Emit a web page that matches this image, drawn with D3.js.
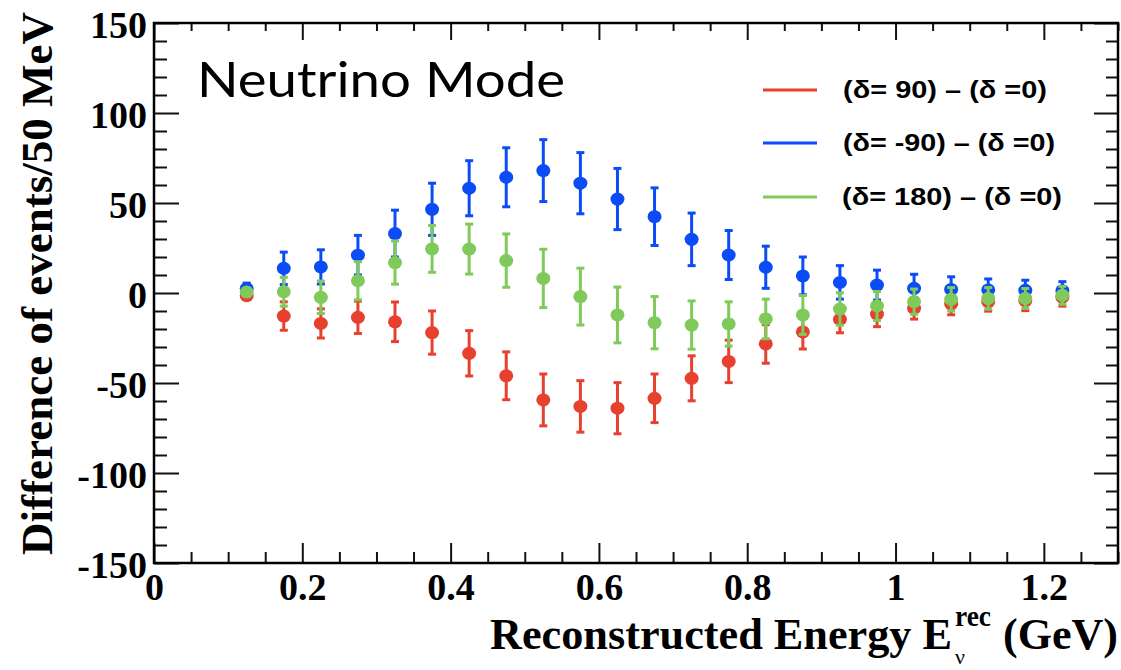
<!DOCTYPE html>
<html>
<head>
<meta charset="utf-8">
<script src="https://cdn.jsdelivr.net/npm/d3@7/dist/d3.min.js"></script>
<style>
  body { margin: 0; background: #fff; }
  svg { display: block; }
</style>
</head>
<body>
<div id="chart"></div>
<script>
// bin centres (GeV), 50 MeV bins
const energy = [0.125, 0.175, 0.225, 0.275, 0.325, 0.375, 0.425, 0.475, 0.525, 0.575, 0.625, 0.675,
                0.725, 0.775, 0.825, 0.875, 0.925, 0.975, 1.025, 1.075, 1.125, 1.175, 1.225];

// (delta=90) - (delta=0)
const redDiff = [-1.5, -12.8, -16.9, -13.5, -16, -22, -33.5, -46, -59.4, -63, -64, -58.5,
                 -47.4, -38, -28.3, -21.6, -14.6, -11.7, -8.5, -6.1, -4.8, -4.3, -2.3];
const redErr = [2, 7.9, 8.1, 9, 11, 12, 12.6, 13.3, 14.4, 14.3, 14.2, 13.5,
                12.5, 11.8, 10.7, 9.5, 7.5, 7, 6, 6, 5.3, 5.5, 5];

// (delta=-90) - (delta=0)
const blueDiff = [2.5, 13.7, 14.5, 21, 33, 46.5, 58.2, 64.3, 68, 61, 52.2, 42.4,
                  29.8, 21.1, 14.3, 9.5, 5.9, 4.4, 2.6, 2, 1.7, 1.5, 1.3];
const blueErr = [3, 9, 9.5, 11, 13, 14.5, 15.3, 16.4, 17.2, 17, 17, 16,
                 14.6, 13.6, 11.7, 10.5, 9.3, 8.3, 7.8, 7, 6.1, 5.6, 5];

// (delta=180) - (delta=0)
const greenDiff = [0.5, 0.7, -2.4, 6.8, 16.9, 24.5, 24.4, 18, 8.1, -2, -12.2, -16.5,
                   -17.8, -17.2, -14.4, -12.2, -8.9, -7.2, -4.8, -3.5, -3, -3, -1.3];
const greenErr = [2, 8, 9, 10.6, 12, 13, 13.9, 14.8, 16.2, 15.8, 15.5, 14.5,
                  13.4, 12.3, 11, 10.8, 9, 8, 7, 6.5, 6, 5.5, 5];

const seriesLabels = ['(δ= 90) – (δ =0)', '(δ= -90) – (δ =0)', '(δ= 180) – (δ =0)'];
const seriesColors = ['#e8402f', '#0b4cf6', '#7fca5a'];

const xTicks = [0, 0.2, 0.4, 0.6, 0.8, 1, 1.2];
const yTicks = [-150, -100, -50, 0, 50, 100, 150];

const width = 1121, height = 670;
const frame = { left: 154, right: 1118, top: 23, bottom: 563 };

const svg = d3.select('#chart').append('svg')
  .attr('width', width)
  .attr('height', height);

const x = d3.scaleLinear().domain([0, 1.3]).range([frame.left, frame.right]);
const y = d3.scaleLinear().domain([-150, 150]).range([frame.bottom, frame.top]);

const serif = "'Liberation Serif', 'Times New Roman', serif";
const sans = "'Liberation Sans', Arial, sans-serif";

// minor tick values, every 0.05 in x and 10 in y
const xMinor = d3.range(0, 27).map(i => +(i * 0.05).toFixed(2)).filter(v => xTicks.indexOf(v) < 0);
const yMinor = d3.range(-15, 16).map(i => i * 10).filter(v => yTicks.indexOf(v) < 0);

const styleAxis = g => {
  g.select('.domain').remove();
  g.selectAll('.tick line').attr('stroke', '#111').attr('stroke-width', 2);
};

// bottom axis with labels
svg.append('g')
  .attr('transform', `translate(0,${frame.bottom})`)
  .call(d3.axisBottom(x).tickValues(xTicks).tickSize(-20).tickPadding(10).tickFormat(d => String(d)))
  .call(styleAxis)
  .selectAll('text')
  .attr('font-family', serif)
  .attr('font-weight', 'bold')
  .attr('font-size', 38)
  .attr('fill', '#000');
svg.append('g')
  .attr('transform', `translate(0,${frame.bottom})`)
  .call(d3.axisBottom(x).tickValues(xMinor).tickSize(-11).tickFormat(''))
  .call(styleAxis);

// top axis, ticks only
svg.append('g')
  .attr('transform', `translate(0,${frame.top})`)
  .call(d3.axisTop(x).tickValues(xTicks).tickSize(-17).tickFormat(''))
  .call(styleAxis);
svg.append('g')
  .attr('transform', `translate(0,${frame.top})`)
  .call(d3.axisTop(x).tickValues(xMinor).tickSize(-8).tickFormat(''))
  .call(styleAxis);

// left axis with labels
svg.append('g')
  .attr('transform', `translate(${frame.left},0)`)
  .call(d3.axisLeft(y).tickValues(yTicks).tickSize(-25).tickPadding(7).tickFormat(d => String(d)))
  .call(styleAxis)
  .selectAll('text')
  .attr('dy', '0.37em')
  .attr('font-family', serif)
  .attr('font-weight', 'bold')
  .attr('font-size', 38)
  .attr('fill', '#000');
svg.append('g')
  .attr('transform', `translate(${frame.left},0)`)
  .call(d3.axisLeft(y).tickValues(yMinor).tickSize(-13).tickFormat(''))
  .call(styleAxis);

// right axis, ticks only
svg.append('g')
  .attr('transform', `translate(${frame.right},0)`)
  .call(d3.axisRight(y).tickValues(yTicks).tickSize(-24).tickFormat(''))
  .call(styleAxis);
svg.append('g')
  .attr('transform', `translate(${frame.right},0)`)
  .call(d3.axisRight(y).tickValues(yMinor).tickSize(-12).tickFormat(''))
  .call(styleAxis);

// frame
svg.append('rect')
  .attr('x', frame.left)
  .attr('y', frame.top)
  .attr('width', frame.right - frame.left)
  .attr('height', frame.bottom - frame.top)
  .attr('fill', 'none')
  .attr('stroke', '#000')
  .attr('stroke-width', 2.5);

// data series
const series = [
  { values: redDiff, errors: redErr, color: seriesColors[0] },
  { values: blueDiff, errors: blueErr, color: seriesColors[1] },
  { values: greenDiff, errors: greenErr, color: seriesColors[2] },
];

series.forEach(s => {
  const pts = energy.map((e, i) => ({ e, v: s.values[i], err: s.errors[i] }));
  const g = svg.append('g').attr('fill', s.color).attr('stroke', s.color);

  const bars = g.selectAll('g.pt').data(pts).enter().append('g').attr('class', 'pt');
  bars.append('line')
    .attr('x1', d => x(d.e)).attr('x2', d => x(d.e))
    .attr('y1', d => y(d.v - d.err)).attr('y2', d => y(d.v + d.err))
    .attr('stroke-width', 3);
  bars.append('line')
    .attr('x1', d => x(d.e) - 4).attr('x2', d => x(d.e) + 4)
    .attr('y1', d => y(d.v + d.err)).attr('y2', d => y(d.v + d.err))
    .attr('stroke-width', 3);
  bars.append('line')
    .attr('x1', d => x(d.e) - 4).attr('x2', d => x(d.e) + 4)
    .attr('y1', d => y(d.v - d.err)).attr('y2', d => y(d.v - d.err))
    .attr('stroke-width', 3);
  bars.append('ellipse')
    .attr('cx', d => x(d.e))
    .attr('cy', d => y(d.v))
    .attr('rx', 7)
    .attr('ry', 6.5)
    .attr('stroke', 'none');
});

// "Neutrino Mode" label
svg.append('text')
  .attr('x', 197)
  .attr('y', 97)
  .attr('font-family', "Lato, 'Noto Sans', sans-serif")
  .attr('font-size', 48)
  .attr('textLength', 368)
  .attr('lengthAdjust', 'spacingAndGlyphs')
  .attr('fill', '#000')
  .text('Neutrino Mode');

// legend
const legendY = [90, 143, 197];
const legendWidths = [204, 212, 220];
const legend = svg.append('g');
seriesLabels.forEach((label, i) => {
  legend.append('line')
    .attr('x1', 763).attr('x2', 817)
    .attr('y1', legendY[i]).attr('y2', legendY[i])
    .attr('stroke', seriesColors[i])
    .attr('stroke-width', 3);
  legend.append('text')
    .attr('x', i === 2 ? 842 : 843)
    .attr('y', legendY[i] + 8)
    .attr('font-family', sans)
    .attr('font-weight', 'bold')
    .attr('font-size', 23)
    .attr('textLength', legendWidths[i])
    .attr('lengthAdjust', 'spacingAndGlyphs')
    .attr('fill', '#000')
    .text(label);
});

// y axis title
svg.append('text')
  .attr('transform', 'translate(52,555) rotate(-90)')
  .attr('font-family', serif)
  .attr('font-weight', 'bold')
  .attr('font-size', 45)
  .attr('textLength', 543)
  .attr('lengthAdjust', 'spacingAndGlyphs')
  .attr('fill', '#000')
  .text('Difference of events/50 MeV');

// x axis title
const xTitle = svg.append('g')
  .attr('font-family', serif)
  .attr('font-weight', 'bold')
  .attr('fill', '#000');
xTitle.append('text')
  .attr('x', 490)
  .attr('y', 649)
  .attr('font-size', 45)
  .attr('textLength', 462)
  .attr('lengthAdjust', 'spacingAndGlyphs')
  .text('Reconstructed Energy E');
xTitle.append('text')
  .attr('x', 955)
  .attr('y', 626)
  .attr('font-size', 29)
  .attr('textLength', 36)
  .attr('lengthAdjust', 'spacingAndGlyphs')
  .text('rec');
xTitle.append('text')
  .attr('x', 955)
  .attr('y', 664)
  .attr('font-size', 22)
  .attr('font-weight', 'normal')
  .text('ν');
xTitle.append('text')
  .attr('x', 1003)
  .attr('y', 649)
  .attr('font-size', 45)
  .attr('textLength', 115)
  .attr('lengthAdjust', 'spacingAndGlyphs')
  .text('(GeV)');
</script>
</body>
</html>
